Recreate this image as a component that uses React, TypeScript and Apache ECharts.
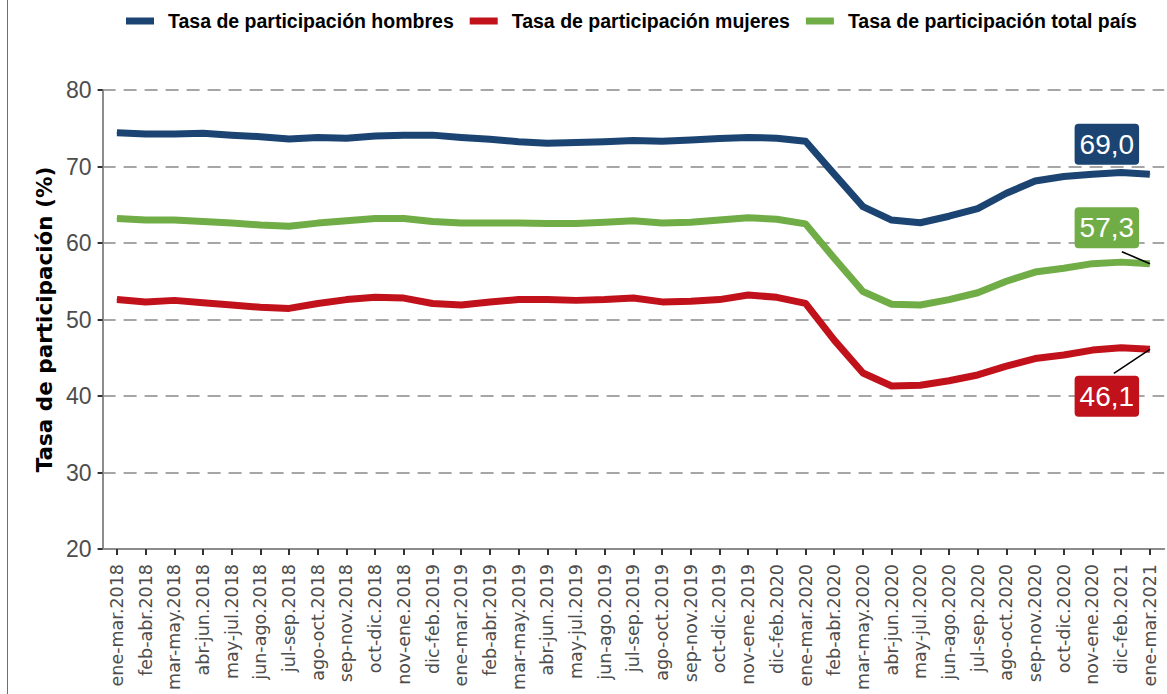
import React, { useEffect, useRef } from 'react';
import * as echarts from 'echarts';

const categories = [
  'ene-mar.2018', 'feb-abr.2018', 'mar-may.2018', 'abr-jun.2018', 'may-jul.2018', 'jun-ago.2018',
  'jul-sep.2018', 'ago-oct.2018', 'sep-nov.2018', 'oct-dic.2018', 'nov-ene.2018', 'dic-feb.2019',
  'ene-mar.2019', 'feb-abr.2019', 'mar-may.2019', 'abr-jun.2019', 'may-jul.2019', 'jun-ago.2019',
  'jul-sep.2019', 'ago-oct.2019', 'sep-nov.2019', 'oct-dic.2019', 'nov-ene.2019', 'dic-feb.2020',
  'ene-mar.2020', 'feb-abr.2020', 'mar-may.2020', 'abr-jun.2020', 'may-jul.2020', 'jun-ago.2020',
  'jul-sep.2020', 'ago-oct.2020', 'sep-nov.2020', 'oct-dic.2020', 'nov-ene.2020', 'dic-feb.2021',
  'ene-mar.2021',
];

const hombres = [
  74.4, 74.25, 74.25, 74.35, 74.1, 73.9, 73.6, 73.8, 73.7, 74.0, 74.1, 74.1,
  73.8, 73.55, 73.25, 73.05, 73.15, 73.25, 73.4, 73.3, 73.45, 73.65, 73.8, 73.7,
  73.3, 69.0, 64.75, 63.0, 62.65, 63.5, 64.5, 66.5, 68.1, 68.7, 69.0, 69.2,
  69.0,
];

const mujeres = [
  52.6, 52.3, 52.5, 52.2, 51.9, 51.6, 51.45, 52.1, 52.6, 52.9, 52.8, 52.1,
  51.9, 52.3, 52.6, 52.6, 52.5, 52.6, 52.8, 52.3, 52.4, 52.6, 53.2, 52.9,
  52.1, 47.3, 43.0, 41.3, 41.4, 42.0, 42.75, 43.9, 44.9, 45.35, 46.0, 46.3,
  46.1,
];

const total = [
  63.2, 63.0, 63.0, 62.8, 62.6, 62.35, 62.2, 62.6, 62.9, 63.2, 63.2, 62.8,
  62.6, 62.6, 62.6, 62.55, 62.55, 62.7, 62.9, 62.6, 62.7, 63.0, 63.3, 63.1,
  62.5, 58.0, 53.65, 52.0, 51.9, 52.6, 53.5, 55.0, 56.2, 56.7, 57.3, 57.5,
  57.3,
];

const seriesNames = [
  'Tasa de participación hombres',
  'Tasa de participación mujeres',
  'Tasa de participación total país',
];
const colors = ['#1B4472', '#C1121C', '#70AD47'];
const yMin = 20;
const yMax = 80;
const yInterval = 10;
const yTitle = 'Tasa de participación (%)';

const SANS = '"Liberation Sans", Arial, sans-serif';

function buildData(values: number[], color: string) {
  const last = values.length - 1;
  return values.map((v, i) =>
    i === last
      ? {
          value: v,
          label: {
            show: true,
            position: 'inside',
            formatter: (p: any) => Number(p.value).toFixed(1).replace('.', ','),
            color: '#fff',
            fontFamily: SANS,
            fontSize: 28,
            lineHeight: 30,
            backgroundColor: color,
            borderRadius: 4,
            padding: [6, 5, 5, 5],
          },
        }
      : v
  );
}

export default function App() {
  const ref = useRef<HTMLDivElement>(null);

  useEffect(() => {
    if (!ref.current) return;
    const chart = echarts.init(ref.current, undefined, { renderer: 'svg' });
    const lists = [hombres, mujeres, total];
    const layouts = [
      { dx: -43, dy: -30 },
      { dx: -43, dy: 47 },
      { dx: -43, dy: -36 },
    ];
    // leader offsets (pixels) from the last point, null = no leader
    const leaders: (number[] | null)[] = [null, [-36, 24], [-28, -12]];
    const order = [2, 1, 0];
    const lastIdx = categories.length - 1;

    const lineSeries = order.map((k) => ({
      name: seriesNames[k],
      type: 'line',
      data: buildData(lists[k], colors[k]),
      color: colors[k],
      showSymbol: true,
      showAllSymbol: true,
      symbol: 'circle',
      symbolSize: 1,
      itemStyle: { color: colors[k] },
      lineStyle: { color: colors[k], width: 7, join: 'round', cap: 'butt' },
      labelLayout: layouts[k],
      emphasis: { disabled: true },
      z: 3,
    }));

    const leaderSeries = [1, 2].map((k) => ({
      type: 'custom',
      silent: true,
      z: 4,
      data: [[lastIdx, lists[k][lastIdx]]],
      renderItem: (_params: any, api: any) => {
        const p = api.coord([api.value(0), api.value(1)]);
        const off = leaders[k] as number[];
        return {
          type: 'line',
          shape: { x1: p[0], y1: p[1], x2: p[0] + off[0], y2: p[1] + off[1] },
          style: { stroke: '#000', lineWidth: 1.6 },
        };
      },
    }));

    chart.setOption({
      animation: false,
      backgroundColor: '#fff',
      legend: {
        left: 121,
        top: 6,
        icon: 'rect',
        itemWidth: 28,
        itemHeight: 7,
        itemGap: 16,
        data: seriesNames,
        textStyle: {
          fontFamily: SANS,
          fontWeight: 'bold',
          fontSize: 19.5,
          color: '#000',
          padding: [0, 0, 0, 9],
        },
      },
      grid: {
        left: 102.6,
        top: 90,
        width: 1061.6,
        height: 459,
        containLabel: false,
        outerBoundsMode: 'none',
      },
      xAxis: {
        type: 'category',
        data: categories,
        boundaryGap: true,
        axisLine: { show: true, lineStyle: { color: '#8C8C8C', width: 2 } },
        axisTick: { show: true, alignWithLabel: true, length: 6, lineStyle: { color: '#333', width: 2 } },
        axisLabel: {
          rotate: 90,
          interval: 0,
          margin: 15,
          fontFamily: '"DejaVu Sans", sans-serif',
          fontSize: 17.5,
          color: '#4D4D4D',
        },
        splitLine: { show: false },
      },
      yAxis: {
        type: 'value',
        min: yMin,
        max: yMax,
        interval: yInterval,
        name: yTitle,
        nameLocation: 'middle',
        nameRotate: 90,
        nameGap: 42,
        nameTextStyle: {
          fontFamily: '"DejaVu Sans", sans-serif',
          fontWeight: 'bold',
          fontSize: 21.5,
          color: '#000',
        },
        axisLine: { show: true, lineStyle: { color: '#8C8C8C', width: 2 } },
        axisTick: { show: true, length: 5, lineStyle: { color: '#333', width: 2 } },
        axisLabel: {
          margin: 11,
          fontFamily: SANS,
          fontSize: 23,
          color: '#4D4D4D',
        },
        splitLine: {
          show: true,
          lineStyle: { color: '#A6A6A6', width: 2, type: [13, 8] },
        },
      },
      series: [...lineSeries, ...leaderSeries],
    });

    return () => chart.dispose();
  }, []);

  return (
    <div
      style={{
        position: 'fixed',
        left: 0,
        top: 0,
        width: 1167,
        height: 694,
        overflow: 'hidden',
        background: '#fff',
      }}
    >
      <div ref={ref} style={{ position: 'absolute', left: 0, top: 0, width: 1167, height: 694 }} />
      <div
        style={{
          position: 'absolute',
          left: 7,
          top: 0,
          width: 1,
          height: 694,
          background: '#4472C4',
        }}
      />
    </div>
  );
}
